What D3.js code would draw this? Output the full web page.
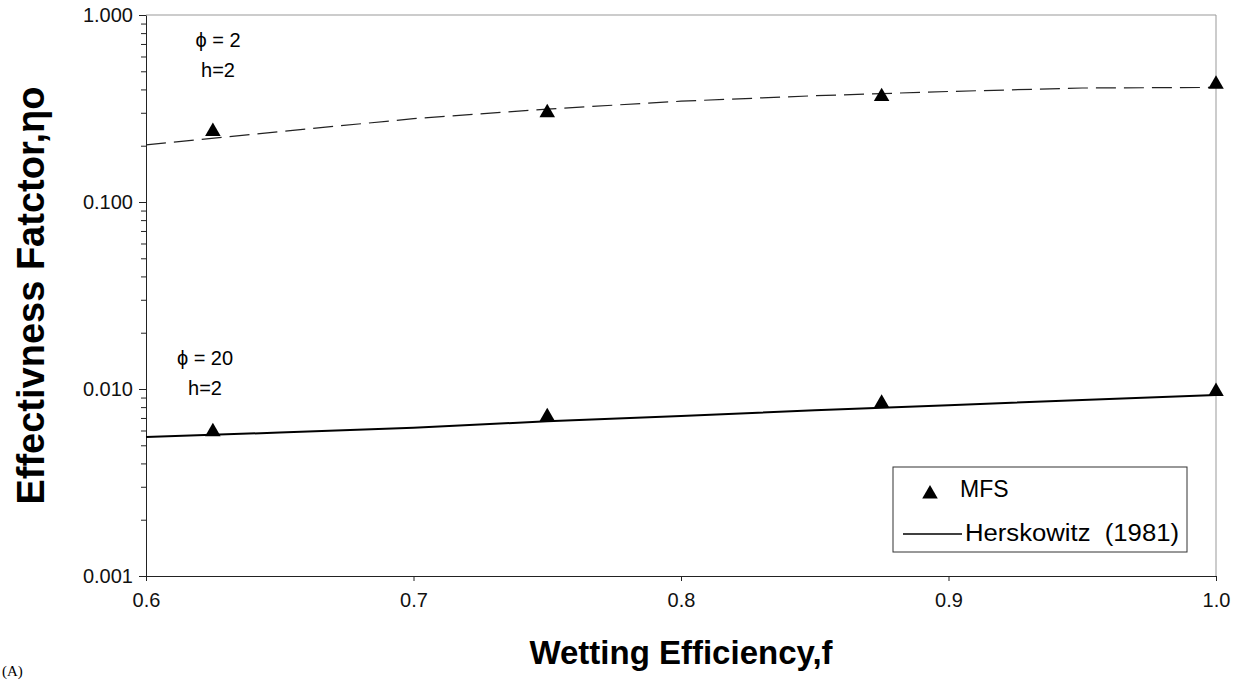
<!DOCTYPE html>
<html lang="en">
<head>
<meta charset="utf-8">
<title>Effectiveness factor vs wetting efficiency</title>
<script src="https://cdn.jsdelivr.net/npm/d3@7"></script>
<style>
  body { margin: 0; background: #fff; }
  svg { font-family: "Liberation Sans", Arial, sans-serif; }
  .axis text { font-size: 20px; fill: #111; font-family: "Liberation Sans", Arial, sans-serif; }
  .axis path, .axis line { stroke: #222; }
  .frame { stroke: #999; fill: none; }
</style>
</head>
<body>
<script>
// data
var fLine = [0.6, 0.65, 0.7, 0.75, 0.8, 0.85, 0.9, 0.95, 1.0];
var herskPhi2 = [0.202, 0.238, 0.279, 0.314, 0.346, 0.370, 0.390, 0.407, 0.410];
var herskPhi20 = [0.00553, 0.00585, 0.0062, 0.00672, 0.00718, 0.00769, 0.00819, 0.00874, 0.0093];

var fMfs = [0.625, 0.75, 0.875, 1.0];
var mfsPhi2 = [0.238, 0.300, 0.366, 0.426];
var mfsPhi20 = [0.00591, 0.00711, 0.00838, 0.0097];

var xTicks = [0.6, 0.7, 0.8, 0.9, 1.0];
var yTicks = [0.001, 0.01, 0.1, 1];

var w = 1245, h = 680;
var pLeft = 146, pRight = 1216, pTop = 15, pBottom = 576;

var svg = d3.select("body").append("svg")
  .attr("width", w).attr("height", h);

var x = d3.scaleLinear().domain([0.6, 1.0]).range([pLeft, pRight]);
var y = d3.scaleLog().domain([0.001, 1]).range([pBottom, pTop]);

// top and right frame
svg.append("path").attr("class", "frame")
  .attr("d", "M" + pLeft + "," + pTop + "H" + pRight + "V" + pBottom);

// minor ticks on y
var minor = [];
[0.001, 0.01, 0.1].forEach(function(d) {
  for (var k = 2; k <= 9; k++) minor.push(d * k);
});
svg.append("g")
  .attr("class", "axis")
  .attr("transform", "translate(" + pLeft + ",0)")
  .call(d3.axisLeft(y).tickValues(minor).tickSize(5).tickFormat(""))
  .select(".domain").remove();

svg.append("g")
  .attr("class", "axis")
  .attr("transform", "translate(" + pLeft + ",0)")
  .call(d3.axisLeft(y).tickValues(yTicks).tickSize(7).tickSizeOuter(0).tickPadding(6)
    .tickFormat(d3.format(".3f")));

svg.append("g")
  .attr("class", "axis")
  .attr("transform", "translate(0," + pBottom + ")")
  .call(d3.axisBottom(x).tickValues(xTicks).tickSize(5).tickSizeOuter(0).tickPadding(12)
    .tickFormat(d3.format(".1f")));

// lines
var line = d3.line()
  .x(function(d, i) { return x(fLine[i]); })
  .y(function(d) { return y(d); });

svg.append("path")
  .datum(herskPhi2)
  .attr("d", line)
  .attr("fill", "none")
  .attr("stroke", "#222")
  .attr("stroke-width", 1.2)
  .attr("stroke-dasharray", "20,8");

svg.append("path")
  .datum(herskPhi20)
  .attr("d", line)
  .attr("fill", "none")
  .attr("stroke", "#000")
  .attr("stroke-width", 2);

// MFS triangles
var tri = d3.symbol().type(d3.symbolTriangle).size(105);
[mfsPhi2, mfsPhi20].forEach(function(series) {
  svg.append("g").selectAll("path")
    .data(series)
    .enter().append("path")
    .attr("d", tri)
    .attr("fill", "#000")
    .attr("transform", function(d, i) {
      return "translate(" + x(fMfs[i]) + "," + y(d) + ")";
    });
});

// annotations
var notes = [
  { t: "\u03d5 = 2", x: 218, y: 47 },
  { t: "h=2", x: 218, y: 77 },
  { t: "\u03d5 = 20", x: 205, y: 365 },
  { t: "h=2", x: 205, y: 395 }
];
svg.append("g").selectAll("text")
  .data(notes)
  .enter().append("text")
  .attr("x", function(d) { return d.x; })
  .attr("y", function(d) { return d.y; })
  .attr("text-anchor", "middle")
  .attr("font-size", 20)
  .text(function(d) { return d.t; });

// legend
var lg = svg.append("g").attr("transform", "translate(893,467)");
lg.append("rect")
  .attr("width", 294).attr("height", 85)
  .attr("fill", "#fff").attr("stroke", "#333");
lg.append("path")
  .attr("d", tri)
  .attr("transform", "translate(37,27)")
  .attr("fill", "#000");
lg.append("text").attr("x", 67).attr("y", 30)
  .attr("font-size", 23).text("MFS");
lg.append("line")
  .attr("x1", 10).attr("x2", 69).attr("y1", 67).attr("y2", 67)
  .attr("stroke", "#000").attr("stroke-width", 1.5);
lg.append("text").attr("x", 72).attr("y", 74)
  .attr("font-size", 23).attr("xml:space", "preserve")
  .attr("textLength", 214).attr("lengthAdjust", "spacingAndGlyphs")
  .text("Herskowitz  (1981)");

// axis titles
svg.append("text")
  .attr("x", (pLeft + pRight) / 2)
  .attr("y", 664)
  .attr("text-anchor", "middle")
  .attr("font-size", 33)
  .attr("font-weight", "bold")
  .text("Wetting Efficiency,f");

svg.append("text")
  .attr("transform", "translate(44," + ((pTop + pBottom) / 2) + ") rotate(-90)")
  .attr("text-anchor", "middle")
  .attr("font-size", 38)
  .attr("font-weight", "bold")
  .text("Effectivness Fatctor,\u03b7\u03bf");

svg.append("text")
  .attr("x", 2).attr("y", 676)
  .attr("font-family", "Liberation Serif, serif")
  .attr("font-size", 15)
  .text("(A)");
</script>
</body>
</html>
